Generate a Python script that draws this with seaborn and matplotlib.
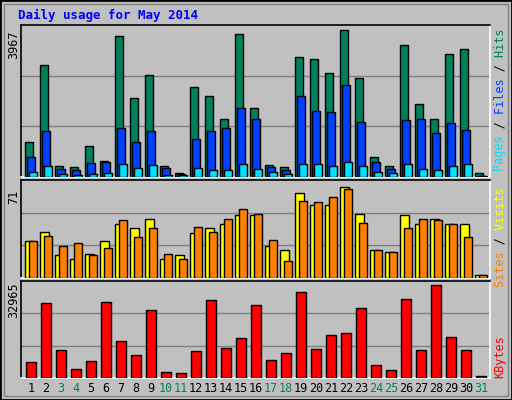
import matplotlib
matplotlib.use("Agg")
import matplotlib.pyplot as plt
import seaborn as sns
import numpy as np
from matplotlib.patches import Rectangle

days = list(range(1, 32))
weekend = [3, 4, 10, 11, 17, 18, 24, 25, 31]
hits = [951,3025,287,260,844,440,3787,2136,2755,287,117,2432,2190,1571,3859,1867,332,260,3240,3186,2809,3967,2675,530,287,3545,1975,1571,3303,3455,117]
files = [547,1248,224,197,386,413,1328,951,1248,251,90,1032,1248,1328,1867,1571,278,197,2190,1786,1759,2486,1490,413,224,1544,1571,1194,1463,1274,36]
pages = [144,305,90,63,90,117,359,251,332,63,63,251,197,197,359,224,144,90,359,359,305,413,305,144,117,359,224,197,305,359,36]
sites = [29,36,18,15,19,29,42,39,46,15,18,35,39,42,49,49,25,22,66,57,57,71,50,22,20,49,42,46,42,42,2]
visits = [29,33,25,27,18,23,45,32,39,19,15,40,36,46,54,50,30,13,60,59,63,69,43,22,20,39,46,45,42,32,2]
kbytes = [5731,26507,10030,3224,6089,26866,13253,8239,24000,2149,1791,9672,27582,10747,14328,25790,6448,8955,30447,10388,15403,16119,24716,4657,2866,27940,10030,32965,14686,10030,716]

BG = "#C0C0C0"
C_HITS, C_FILES, C_PAGES = "#00805C", "#0040FF", "#00E0FF"
C_SITES, C_VISITS, C_KB = "#FFFF00", "#FF8000", "#FF0000"
MONO = "DejaVu Sans Mono"

W, H = 512, 400
fig = plt.figure(figsize=(W/100, H/100), dpi=100, facecolor=BG)
fig.add_artist(Rectangle((0, 0), 1, 1, transform=fig.transFigure, fill=False, ec="black", lw=2))
fig.add_artist(Rectangle((4/W, 4/H), 1-8/W, 1-8/H, transform=fig.transFigure, fill=False, ec="#808080", lw=1))

def mkax(top, bottom):
    ax = fig.add_axes([21/W, 1-bottom/H, (490-21)/W, (bottom-top)/H])
    ax.set_facecolor(BG)
    for s in ["left", "top"]:
        ax.spines[s].set_color("black")
    for s in ["right", "bottom"]:
        ax.spines[s].set_color("white")
    for s in ax.spines.values():
        s.set_linewidth(1.2)
    return ax

d = np.array(days, dtype=float)

def bars(ax, xoff, vals, color, width):
    sns.barplot(x=d + xoff, y=vals, native_scale=True, color=color, width=width,
                edgecolor="black", linewidth=1, saturation=1, ax=ax, zorder=3)

def grid(ax, top):
    for f in (1/3, 2/3):
        ax.axhline(top*f, color="#808080", lw=1, zorder=1)

ax1 = mkax(25, 177)
bars(ax1, -0.133, hits, C_HITS, 0.49)
bars(ax1, 0.0, files, C_FILES, 0.49)
bars(ax1, 0.133, pages, C_PAGES, 0.49)
top1 = max(hits)*152/147.4
ax1.set_ylim(0, top1); grid(ax1, top1)

ax2 = mkax(180, 278)
bars(ax2, -0.1, sites, C_SITES, 0.55)
bars(ax2, 0.11, visits, C_VISITS, 0.53)
top2 = max(sites)*297/276
ax2.set_ylim(0, top2); grid(ax2, top2)

ax3 = mkax(281, 378)
bars(ax3, 0.02, kbytes, C_KB, 0.67)
top3 = max(kbytes)*288/276
ax3.set_ylim(0, top3); grid(ax3, top3)

for ax in (ax1, ax2, ax3):
    ax.set_xlabel(""); ax.set_ylabel("")
    ax.set_xlim(0.333, 31.6)
    ax.set_xticks([]); ax.set_yticks([])

fig.text(18/W, 1-15/H, "Daily usage for May 2014", color="#0000FF", fontsize=9,
         fontweight="bold", family=MONO, va="center", ha="left")

fig.text(14/W, 1-45/H, str(max(hits)), rotation=90, fontsize=8.5, family=MONO, ha="center", va="center")
fig.text(14/W, 1-197/H, str(max(sites)), rotation=90, fontsize=8.5, family=MONO, ha="center", va="center")
fig.text(14/W, 1-300/H, str(max(kbytes)), rotation=90, fontsize=8.5, family=MONO, ha="center", va="center")

for day in days:
    xpx = 21 + (day - 0.333) / (31.6 - 0.333) * 469
    fig.text(xpx/W, 1-389/H, str(day), fontsize=8.5, family=MONO, ha="center", va="center",
             color="#00805C" if day in weekend else "black")

def side(pieces, y_center):
    full = "".join(t for t, _ in pieces)
    pos = 0
    for txt, col in pieces:
        s = " " * pos + txt + " " * (len(full) - pos - len(txt))
        pos += len(txt)
        if not txt.strip():
            continue
        fig.text(500/W, 1-y_center/H, s, rotation=90, fontsize=8.5, family=MONO, color=col,
                 ha="center", va="center")

side([("Pages", C_PAGES), (" / ", "black"), ("Files", C_FILES), (" / ", "black"), ("Hits", C_HITS)], 100)
side([("Sites", C_VISITS), (" / ", "black"), ("Visits", C_SITES)], 237)
side([("KBytes", C_KB)], 357)

fig.savefig("out.png", dpi=100, facecolor=BG)
